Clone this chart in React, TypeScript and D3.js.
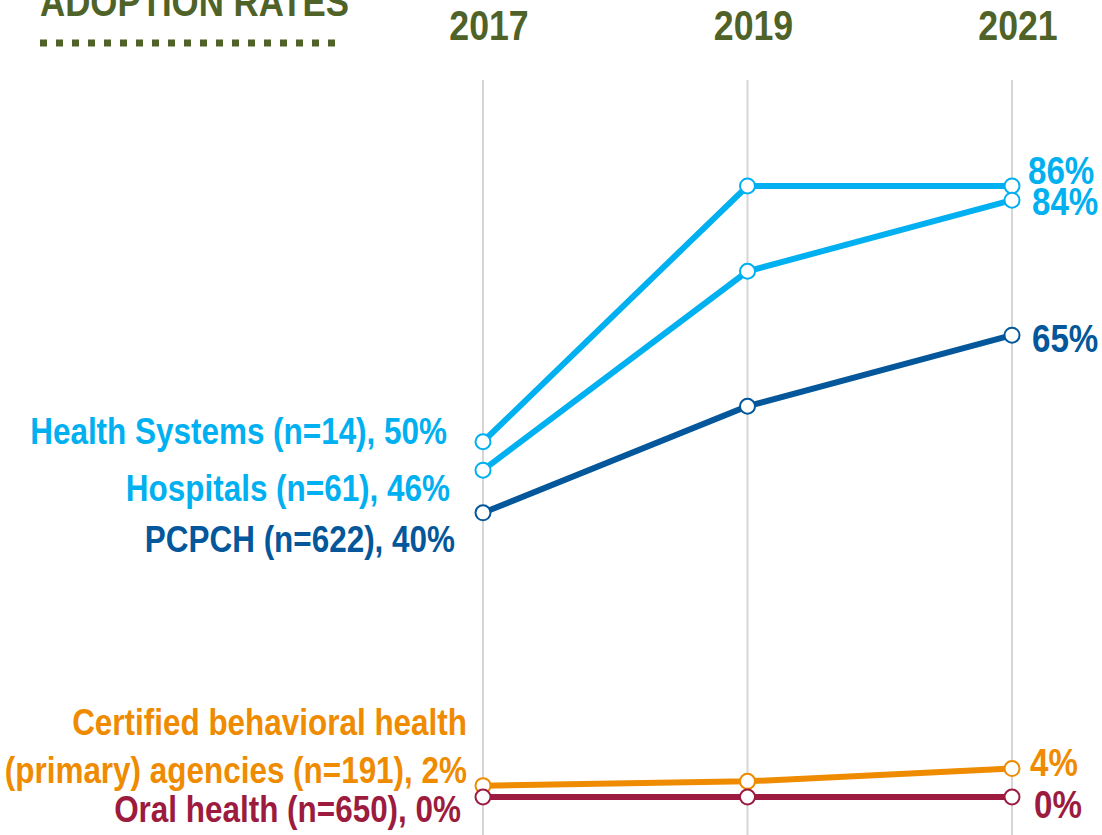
import React from 'react';
import { scalePoint, scaleLinear, line } from 'd3';

// data
const years = ['2017', '2019', '2021'];
const seriesNames = ['Health Systems', 'Hospitals', 'PCPCH', 'Certified behavioral health', 'Oral health'];
const healthSystems = [50, 86, 86];
const hospitals = [46, 74, 84];
const pcpch = [40, 55, 65];
const behavioral = [1.6, 2.2, 4];
const oralHealth = [0, 0, 0];
const startLabels = [
  ['Health Systems (n=14), 50%'],
  ['Hospitals (n=61), 46%'],
  ['PCPCH (n=622), 40%'],
  ['Certified behavioral health', '(primary) agencies (n=191), 2%'],
  ['Oral health (n=650), 0%'],
];
const endLabels = ['86%', '84%', '65%', '4%', '0%'];

const colors = ['#00b0f0', '#00b0f0', '#03579a', '#ef8b00', '#9c1b3e'];
const olive = '#4f6228';
const FONT = '"Liberation Sans", Arial, sans-serif';
const NARROW = 0.85; // squeeze Liberation Sans to look like a narrow face

// label nudges (dx from the 2017 / 2021 point, dy from the point's y)
const leftNudge = [
  { dx: -36, dy: 2 },
  { dx: -33, dy: 31 },
  { dx: -28, dy: 39 },
  { dx: -16, dy: -3 },
  { dx: -22, dy: 25 },
];
const rightNudge = [
  { dx: 16, dy: -2 },
  { dx: 20, dy: 15 },
  { dx: 20, dy: 17 },
  { dx: 18, dy: 7 },
  { dx: 22, dy: 21 },
];

const Narrow = ({ x, y, anchor = 'start', size, fill, children }: any) => (
  <g transform={`translate(${x},${y}) scale(${NARROW},1)`}>
    <text x={0} y={0} textAnchor={anchor} fontSize={size} fill={fill}>{children}</text>
  </g>
);

const App = () => {
  const width = 1102;
  const height = 835;
  const allValues = [healthSystems, hospitals, pcpch, behavioral, oralHealth];

  const x = scalePoint<string>().domain(years).range([483, 1012]);
  const y = scaleLinear().domain([0, 100]).range([797, 86.5]);

  const path = line<number>()
    .x((_, i) => x(years[i]) as number)
    .y(d => y(d));

  return (
    <svg
      width={width}
      height={height}
      style={{ position: 'fixed', left: 0, top: 0, background: '#fff' }}
      fontFamily={FONT}
      fontWeight="bold"
    >
      {/* title, cut off at top */}
      <Narrow x={40} y={16} size={41} fill={olive}>ADOPTION RATES</Narrow>
      <line x1={40} x2={336} y1={43} y2={43} stroke={olive} strokeWidth={7} strokeDasharray="7 9" />

      {/* year headers and gridlines */}
      {years.map(yr => (
        <g key={yr}>
          <line x1={x(yr)} x2={x(yr)} y1={80} y2={height} stroke="#d6d6d6" strokeWidth={2} />
          <Narrow x={(x(yr) as number) + 6} y={40} anchor="middle" size={42} fill={olive}>{yr}</Narrow>
        </g>
      ))}

      {/* lines, drawn bottom-up so the top series sit on top */}
      {allValues.map((vals, si) => (
        <path key={seriesNames[si]} d={path(vals) || ''} fill="none" stroke={colors[si]} strokeWidth={6} />
      )).reverse()}
      {allValues.map((vals, si) => (
        <g key={'m' + si}>
          {vals.map((v, i) => (
            <circle key={i} cx={x(years[i])} cy={y(v)} r={7.5} fill="#fff" stroke={colors[si]} strokeWidth={2} />
          ))}
        </g>
      ))}

      {/* start labels */}
      {allValues.map((vals, si) => {
        const lines = startLabels[si];
        const bx = (x(years[0]) as number) + leftNudge[si].dx;
        const by = y(vals[0]) + leftNudge[si].dy;
        return (
          <g key={'l' + si}>
            {lines.map((t, li) => (
              <Narrow key={li} x={bx} y={by - (lines.length - 1 - li) * 48} anchor="end" size={37} fill={colors[si]}>
                {t}
              </Narrow>
            ))}
          </g>
        );
      })}

      {/* end labels */}
      {allValues.map((vals, si) => (
        <Narrow
          key={'r' + si}
          x={(x(years[2]) as number) + rightNudge[si].dx}
          y={y(vals[2]) + rightNudge[si].dy}
          size={39}
          fill={colors[si]}
        >
          {endLabels[si]}
        </Narrow>
      ))}
    </svg>
  );
};

export default App;
